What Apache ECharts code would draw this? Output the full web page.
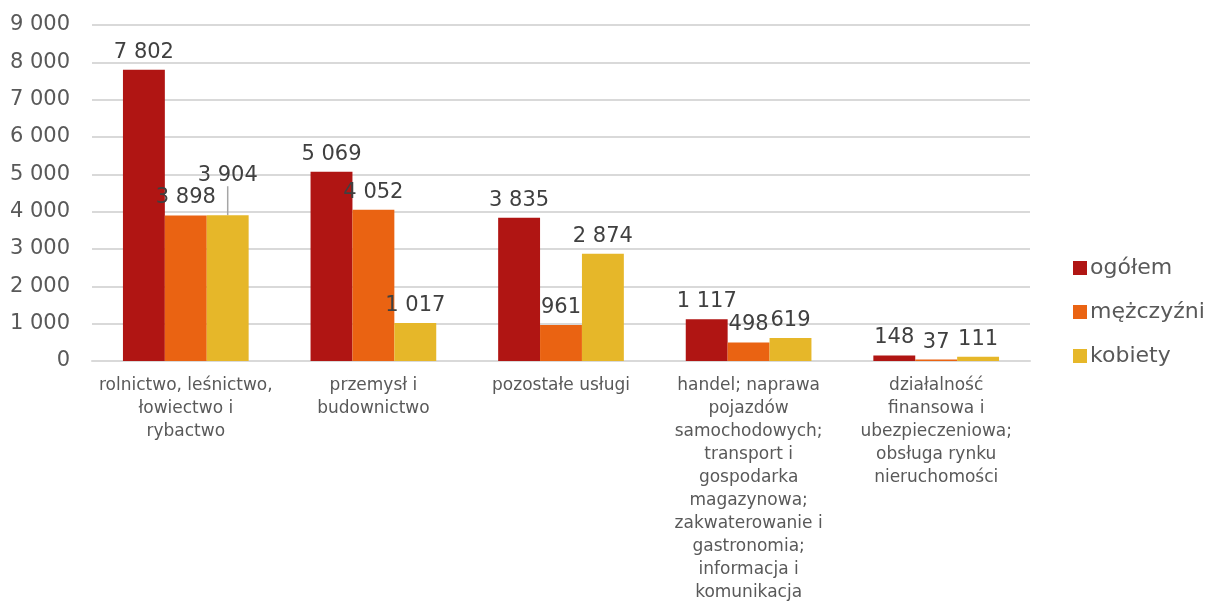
<!DOCTYPE html>
<html><head><meta charset="utf-8">
<script src="https://cdn.jsdelivr.net/npm/echarts@6/dist/echarts.min.js"></script>
<style>html,body{margin:0;padding:0;background:#fff}#c{width:1209px;height:604px}</style>
</head><body><div id="c"></div>
<script>
const categories = [
  "rolnictwo, leśnictwo,\nłowiectwo i\nrybactwo",
  "przemysł i\nbudownictwo",
  "pozostałe usługi",
  "handel; naprawa\npojazdów\nsamochodowych;\ntransport i\ngospodarka\nmagazynowa;\nzakwaterowanie i\ngastronomia;\ninformacja i\nkomunikacja",
  "działalność\nfinansowa i\nubezpieczeniowa;\nobsługa rynku\nnieruchomości"
];
const seriesNames = ["ogółem", "mężczyźni", "kobiety"];
const ogolem = [7802, 5069, 3835, 1117, 148];
const mezczyzni = [3898, 4052, 961, 498, 37];
const kobiety = [3904, 1017, 2874, 619, 111];
const colors = ["#B01513", "#EA6312", "#E6B729"];

const FONT = "DejaVu Sans";
const fmt = v => String(v).replace(/\B(?=(\d{3})+(?!\d))/g, " ");
const chart = echarts.init(document.getElementById('c'), null, {renderer: 'canvas'});
const mk = (name, data, color, extra) => Object.assign({
  name, type: 'bar', data, barGap: '0%', barCategoryGap: '33%',
  itemStyle: {color},
  label: {show: true, position: 'top', distance: 7, formatter: p => fmt(p.value),
    fontFamily: FONT, fontSize: 21, color: '#404040'}
}, extra || {});
chart.setOption({
  animation: false,
  textStyle: {fontFamily: FONT},
  grid: {left: 92, right: 179, top: 25, bottom: 239, containLabel: false},
  legend: {
    orient: 'vertical', left: 1068, top: 252, itemWidth: 14, itemHeight: 14, itemGap: 22,
    icon: 'rect', data: seriesNames,
    textStyle: {fontFamily: FONT, fontSize: 22, color: '#595959', padding: [0, 0, 0, -2]}
  },
  xAxis: {
    type: 'category', data: categories,
    axisLine: {show: true, lineStyle: {color: '#d9d9d9', width: 2}},
    axisTick: {show: false},
    axisLabel: {interval: 0, margin: 13, fontFamily: FONT, fontSize: 17, color: '#595959', lineHeight: 23}
  },
  yAxis: {
    type: 'value', min: 0, max: 9000, interval: 1000,
    axisLine: {show: false}, axisTick: {show: false},
    splitLine: {lineStyle: {color: '#d9d9d9', width: 2}},
    axisLabel: {margin: 22, fontFamily: FONT, fontSize: 21, color: '#595959', formatter: v => fmt(v)}
  },
  series: [
    mk(seriesNames[0], ogolem, colors[0]),
    mk(seriesNames[1], mezczyzni, colors[1]),
    mk(seriesNames[2], kobiety.map((v, i) => i === 0 ? {value: v, labelLine: {show: true, lineStyle: {color: '#a6a6a6', width: 1.5}}} : v), colors[2], {
      labelLayout: p => p.dataIndex === 0 ? {dy: -22} : {}
    })
  ]
});
</script></body></html>
